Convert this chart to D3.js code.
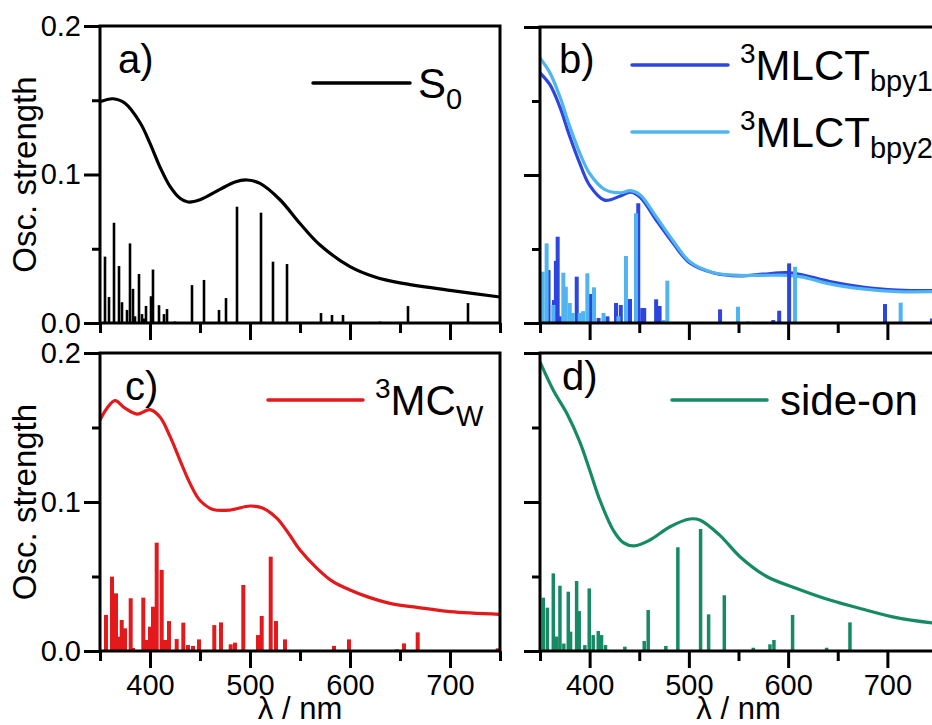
<!DOCTYPE html>
<html>
<head>
<meta charset="utf-8">
<script src="https://cdn.jsdelivr.net/npm/d3@7"></script>
<style>
  body { margin: 0; background: #fff; }
  svg { display: block; font-family: 'Liberation Sans', Arial, sans-serif; }
</style>
</head>
<body>
<svg id="chart" width="932" height="725"></svg>
<script>
// ticks
const xMajor = [400, 500, 600, 700]
const xMinor = [350, 450, 550, 650, 750]
const yMajor = [0, 0.1, 0.2]
const yMinor = [0.05, 0.15]

// a) S0 : [wavelength nm, oscillator strength]
const s0Curve = [[350, 0.149], [363, 0.151], [375, 0.148], [390, 0.135], [400, 0.121], [410, 0.105], [420, 0.092], [430, 0.084], [438, 0.0815], [450, 0.083], [470, 0.090], [485, 0.095], [497, 0.0963], [510, 0.094], [530, 0.083], [550, 0.067], [570, 0.0525], [600, 0.038], [625, 0.031], [650, 0.027], [700, 0.022], [750, 0.0175]]
const s0Sticks = [[355, 0.0447], [359, 0.0175], [364, 0.0675], [369, 0.0384], [372, 0.014], [377, 0.0088], [380, 0.0536], [383, 0.023], [385, 0.0045], [389, 0.033], [392, 0.006], [394, 0.003], [396, 0.0115], [401, 0.018], [403, 0.036], [409, 0.012], [414, 0.006], [417, 0.0094], [425, 0.001], [442, 0.0255], [454, 0.029], [469, 0.0088], [476, 0.0168], [487, 0.0783], [511, 0.0743], [523, 0.0413], [537, 0.0397], [571, 0.0067], [582, 0.0054], [593, 0.0054], [630, 0.001], [658, 0.0114], [718, 0.0134]]

// b) 3MLCT bpy1 / bpy2
const bpy1Curve = [[350, 0.169], [360, 0.161], [370, 0.146], [380, 0.126], [390, 0.108], [400, 0.093], [415, 0.083], [431, 0.0858], [441, 0.0884], [451, 0.085], [467, 0.0696], [484, 0.054], [501, 0.0405], [525, 0.0338], [551, 0.0318], [575, 0.033], [599, 0.034], [615, 0.0324], [642, 0.028], [675, 0.0243], [710, 0.0223], [750, 0.0218]]
const bpy2Curve = [[350, 0.179], [360, 0.169], [370, 0.153], [380, 0.1327], [390, 0.115], [400, 0.101], [415, 0.0903], [431, 0.088], [441, 0.0894], [451, 0.0865], [467, 0.0718], [484, 0.0556], [501, 0.0414], [525, 0.034], [551, 0.0322], [575, 0.0322], [599, 0.0322], [615, 0.031], [642, 0.0264], [675, 0.023], [710, 0.0212], [750, 0.0212]]
const bpy1Sticks = [[358.6, 0.0358], [364, 0.0155], [366, 0.042], [367.8, 0.0583], [370, 0.0045], [387, 0.0313], [401, 0.0196], [409, 0.0034], [418, 0.0045], [426.6, 0.0135], [431.4, 0.0122], [440.7, 0.0162], [449, 0.0809], [453, 0.0101], [455, 0.0101], [467, 0.016], [470.5, 0.0115], [531.4, 0.0092], [585, 0.002], [591, 0.0083], [601, 0.0403], [697.6, 0.0128], [745, 0.003]]
const bpy2Sticks = [[352.7, 0.0347], [356.7, 0.0538], [363.5, 0.0122], [373.5, 0.034], [376, 0.0245], [380, 0.0135], [383, 0.0068], [390, 0.0068], [393.5, 0.008], [397.7, 0.0336], [404.4, 0.0241], [414, 0.0068], [429, 0.0045], [436.6, 0.0453], [446.7, 0.0741], [474.6, 0.002], [478.3, 0.0286], [549.5, 0.011], [559.9, 0.001], [607, 0.038], [713.4, 0.0137]]

// c) 3MC_W
const mcCurve = [[350, 0.155], [357, 0.163], [365, 0.168], [375, 0.163], [387, 0.159], [400, 0.162], [410, 0.157], [420, 0.144], [430, 0.128], [440, 0.1125], [450, 0.101], [463, 0.095], [480, 0.0946], [500, 0.0973], [513, 0.0958], [527, 0.089], [540, 0.0775], [550, 0.0678], [567, 0.0555], [583, 0.0465], [600, 0.041], [617, 0.0365], [640, 0.032], [667, 0.0293], [700, 0.0264], [750, 0.0246]]
const mcSticks = [[356, 0.0242], [362, 0.0499], [366, 0.0387], [369, 0.0096], [371.7, 0.0208], [375, 0.0152], [380.7, 0.0354], [383, 0.002], [393.3, 0.0358], [396.7, 0.0074], [400, 0.0163], [403, 0.0297], [406.7, 0.0727], [411.7, 0.0544], [415, 0.0074], [419, 0.0201], [426.7, 0.008], [433.3, 0.019], [438, 0.004], [443, 0.0034], [449, 0.0078], [464.3, 0.0174], [471, 0.0192], [480.7, 0.0045], [485, 0.0056], [493.3, 0.0443], [508, 0.0107], [511.7, 0.0235], [520.7, 0.0633], [526, 0.0201], [535, 0.0078], [584, 0.0034], [599, 0.0078], [646.7, 0.0011], [654, 0.0051], [667.7, 0.0125], [747.7, 0.0018]]

// d) side-on
const sideCurve = [[350, 0.194], [363.4, 0.175], [377, 0.1595], [390, 0.1405], [400, 0.1215], [410.5, 0.101], [423.9, 0.081], [434, 0.0727], [445, 0.0705], [460.8, 0.0745], [481, 0.0834], [501, 0.0886], [511, 0.0879], [531, 0.0778], [551.5, 0.0633], [578.4, 0.05], [608.6, 0.042], [642, 0.0342], [675.7, 0.028], [709, 0.0224], [750, 0.0184]]
const sideSticks = [[353.3, 0.0358], [357.4, 0.0291], [363.4, 0.0521], [366.8, 0.0097], [370.1, 0.0438], [374, 0.005], [378.5, 0.0398], [380.8, 0.013], [386.9, 0.047], [389.5, 0.0268], [395.2, 0.004], [399.6, 0.042], [403.6, 0.0107], [408.7, 0.0134], [412, 0.0107], [416, 0.004], [435.5, 0.0029], [455, 0.0067], [459, 0.0275], [476.8, 0.0034], [488.9, 0.0696], [511.8, 0.0819], [519.9, 0.0246], [535.7, 0.0374], [564.9, 0.0022], [581.7, 0.0045], [585.7, 0.0074], [604.5, 0.0242], [638.8, 0.0022], [662.3, 0.0192]]

const panels = [
  { id: 'a', left: 100, right: 500, top: 26, bottom: 323, yLabels: true, xLabels: false, stickW: 2.6,
    series: [{ curve: s0Curve, sticks: s0Sticks, color: '#000000' }],
    legend: [{ y: 83, main: 'S', sub: '0' }] },
  { id: 'b', left: 540, right: 937, top: 27, bottom: 323, yLabels: false, xLabels: false, stickW: 4,
    series: [{ curve: bpy1Curve, sticks: bpy1Sticks, color: '#2c45de' },
             { curve: bpy2Curve, sticks: bpy2Sticks, color: '#4fb4f0' }],
    legend: [{ y: 65, sup: '3', main: 'MLCT', sub: 'bpy1' }, { y: 132, sup: '3', main: 'MLCT', sub: 'bpy2' }] },
  { id: 'c', left: 100, right: 500, top: 353, bottom: 651, yLabels: true, xLabels: true, stickW: 4,
    series: [{ curve: mcCurve, sticks: mcSticks, color: '#e3191c' }],
    legend: [{ y: 400, sup: '3', main: 'MC', sub: 'W' }] },
  { id: 'd', left: 540, right: 937, top: 353, bottom: 651, yLabels: false, xLabels: true, stickW: 3.5,
    series: [{ curve: sideCurve, sticks: sideSticks, color: '#168a63' }],
    legend: [{ y: 400, main: 'side-on' }] }
]

const legendPos = {
  a: { x1: 313, x2: 410, tx: 418 },
  b: { x1: 632, x2: 728, tx: 740 },
  c: { x1: 268, x2: 363, tx: 375 },
  d: { x1: 672, x2: 767, tx: 780 }
}
const labelPos = { a: [118, 73], b: [559, 73], c: [125, 400], d: [562, 390] }

const svg = d3.select('#chart')

panels.forEach(p => {
  const x = d3.scaleLinear().domain([350, 750]).range([p.left, p.right])
  const y = d3.scaleLinear().domain([0, 0.2]).range([p.bottom, p.top])
  const g = svg.append('g')

  svg.append('clipPath').attr('id', 'clip-' + p.id)
    .append('rect').attr('x', p.left).attr('y', p.top)
    .attr('width', p.right - p.left).attr('height', p.bottom - p.top)

  const plot = g.append('g').attr('clip-path', `url(#clip-${p.id})`)
  const line = d3.line().x(d => x(d[0])).y(d => y(d[1])).curve(d3.curveCatmullRom.alpha(0.5))

  p.series.forEach(s => {
    plot.append('path').datum(s.curve)
      .attr('d', line).attr('fill', 'none')
      .attr('stroke', s.color).attr('stroke-width', 3.2)
  })
  p.series.forEach(s => {
    plot.append('g').selectAll('line').data(s.sticks).enter().append('line')
      .attr('x1', d => x(d[0])).attr('x2', d => x(d[0]))
      .attr('y1', y(0)).attr('y2', d => y(d[1]))
      .attr('stroke', s.color).attr('stroke-width', p.stickW)
  })

  // frame
  g.append('rect').attr('x', p.left).attr('y', p.top)
    .attr('width', p.right - p.left).attr('height', p.bottom - p.top)
    .attr('fill', 'none').attr('stroke', '#000').attr('stroke-width', 3)

  // x axis: major + minor
  const xAx = g.append('g').attr('transform', `translate(0,${p.bottom})`)
    .style('font-size', '29px').style('font-family', 'inherit')
    .call(d3.axisBottom(x).tickValues(xMajor).tickSizeInner(17).tickSizeOuter(0).tickPadding(6)
      .tickFormat(p.xLabels ? d3.format('d') : ''))
  g.append('g').attr('transform', `translate(0,${p.bottom})`)
    .call(d3.axisBottom(x).tickValues(xMinor).tickSize(10).tickFormat(''))
    .call(a => a.select('.domain').remove())
    .selectAll('line').attr('stroke-width', 3)
  xAx.select('.domain').remove()
  xAx.selectAll('line').attr('stroke-width', 3)
  xAx.selectAll('text').attr('fill', '#000')

  // y axis
  const yAx = g.append('g').attr('transform', `translate(${p.left},0)`)
    .style('font-size', '29px').style('font-family', 'inherit')
    .call(d3.axisLeft(y).tickValues(yMajor).tickSizeInner(16).tickSizeOuter(0).tickPadding(3)
      .tickFormat(p.yLabels ? d3.format('.1f') : ''))
  g.append('g').attr('transform', `translate(${p.left},0)`)
    .call(d3.axisLeft(y).tickValues(yMinor).tickSize(8).tickFormat(''))
    .call(a => a.select('.domain').remove())
    .selectAll('line').attr('stroke-width', 3)
  yAx.select('.domain').remove()
  yAx.selectAll('line').attr('stroke-width', 3)
  yAx.selectAll('text').attr('fill', '#000')

  // axis titles
  if (p.yLabels) {
    g.append('text')
      .attr('transform', `translate(36,${(p.top + p.bottom) / 2}) rotate(-90)`)
      .attr('text-anchor', 'middle').style('font-size', '33px')
      .text('Osc. strength')
  }
  if (p.xLabels) {
    g.append('text')
      .attr('x', (p.left + p.right) / 2).attr('y', 719)
      .attr('text-anchor', 'middle').style('font-size', '31px')
      .text('λ / nm')
  }

  // panel label
  g.append('text').attr('x', labelPos[p.id][0]).attr('y', labelPos[p.id][1])
    .style('font-size', '40px').text(p.id + ')')

  // legend
  const lp = legendPos[p.id]
  p.legend.forEach((L, i) => {
    g.append('line').attr('x1', lp.x1).attr('x2', lp.x2).attr('y1', L.y).attr('y2', L.y)
      .attr('stroke', p.series[i].color).attr('stroke-width', 3.5).attr('stroke-linecap', 'round')
    const t = g.append('text').attr('x', lp.tx).attr('y', L.y + 15).style('font-size', '42px')
    if (L.sup) t.append('tspan').attr('dy', -17).style('font-size', '28px').text(L.sup)
    t.append('tspan').attr('dy', L.sup ? 17 : 0).text(L.main)
    if (L.sub) t.append('tspan').attr('dy', 11).style('font-size', '29px').text(L.sub)
  })
})
</script>
</body>
</html>
